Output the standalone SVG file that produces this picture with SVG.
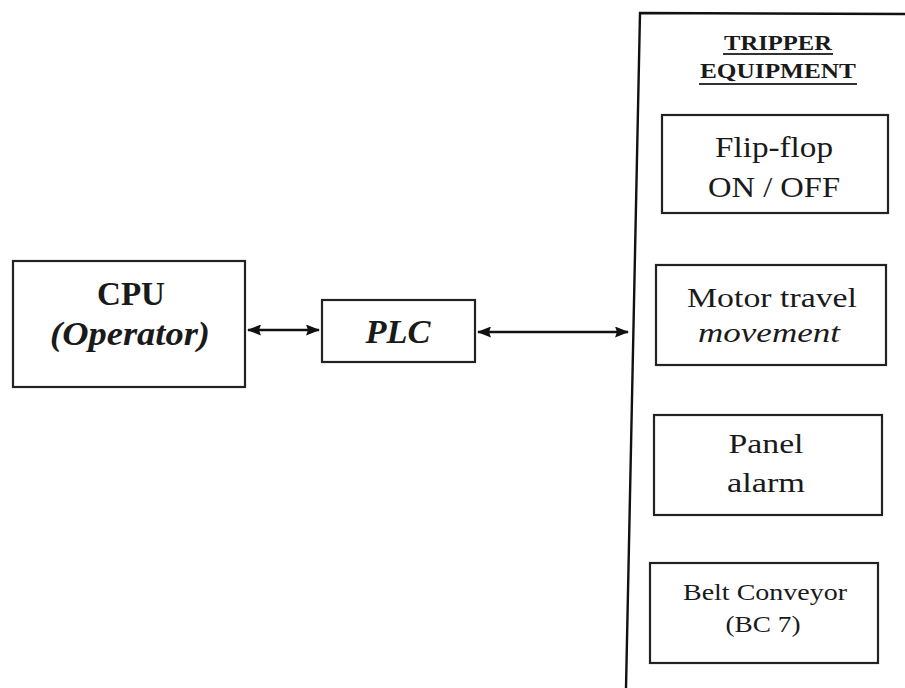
<svg xmlns="http://www.w3.org/2000/svg" width="905" height="688" viewBox="0 0 905 688">
<style>
.box{fill:#fff;stroke:#222;stroke-width:2.2}
.t{font-family:"Liberation Serif","Times New Roman",serif;fill:#1a1a1a;text-anchor:middle}
.b{font-weight:bold}
.i{font-style:italic}
.line{stroke:#111;stroke-width:2.4;fill:none}
</style>
<defs>
<marker id="ah" viewBox="0 0 14 11" refX="13" refY="5.5" markerWidth="14" markerHeight="11" orient="auto-start-reverse" markerUnits="userSpaceOnUse">
<path d="M0,0 L14,5.5 L0,11 L2,5.5 Z" fill="#111"/>
</marker>
</defs>
<rect width="905" height="688" fill="#fff"/>
<g id="tripper">
<path class="line" d="M905,14 L640,13 L626,688"/>
<text class="t b" x="778" y="50" font-size="22" textLength="108" lengthAdjust="spacingAndGlyphs">TRIPPER</text>
<text class="t b" x="778" y="78" font-size="22" textLength="156" lengthAdjust="spacingAndGlyphs">EQUIPMENT</text>
<line x1="723" y1="54" x2="833" y2="54" stroke="#333" stroke-width="1.8"/>
<line x1="699" y1="84" x2="857" y2="84" stroke="#333" stroke-width="1.8"/>
</g>
<g id="cpu">
<rect class="box" x="13" y="261" width="232" height="126"/>
<text class="t b" x="131" y="305" font-size="34" textLength="68" lengthAdjust="spacingAndGlyphs">CPU</text>
<text class="t b i" x="130" y="345" font-size="33" textLength="160" lengthAdjust="spacingAndGlyphs">(Operator)</text>
</g>
<g id="plc">
<rect class="box" x="322" y="300" width="153" height="62"/>
<text class="t b i" x="398" y="343" font-size="34" textLength="65" lengthAdjust="spacingAndGlyphs">PLC</text>
</g>
<g id="flipflop">
<rect class="box" x="662" y="115" width="226" height="98"/>
<text class="t" x="774" y="157" font-size="30" textLength="118" lengthAdjust="spacingAndGlyphs">Flip-flop</text>
<text class="t" x="774" y="197" font-size="30" textLength="132" lengthAdjust="spacingAndGlyphs">ON / OFF</text>
</g>
<g id="motor">
<rect class="box" x="656" y="265" width="230" height="100"/>
<text class="t" x="772" y="307" font-size="27" textLength="170" lengthAdjust="spacingAndGlyphs">Motor travel</text>
<text class="t i" x="769" y="342" font-size="27" textLength="142" lengthAdjust="spacingAndGlyphs">movement</text>
</g>
<g id="panel">
<rect class="box" x="654" y="415" width="228" height="100"/>
<text class="t" x="766" y="453" font-size="27" textLength="75" lengthAdjust="spacingAndGlyphs">Panel</text>
<text class="t" x="766" y="492" font-size="27" textLength="78" lengthAdjust="spacingAndGlyphs">alarm</text>
</g>
<g id="belt">
<rect class="box" x="650" y="563" width="228" height="100"/>
<text class="t" x="765" y="600" font-size="24" textLength="164" lengthAdjust="spacingAndGlyphs">Belt Conveyor</text>
<text class="t" x="763" y="632" font-size="24" textLength="75" lengthAdjust="spacingAndGlyphs">(BC 7)</text>
</g>
<g id="connectors">
<line class="line" x1="248" y1="330" x2="319" y2="330" marker-start="url(#ah)" marker-end="url(#ah)"/>
<line class="line" x1="478" y1="332" x2="628" y2="332" marker-start="url(#ah)" marker-end="url(#ah)"/>
</g>
</svg>
